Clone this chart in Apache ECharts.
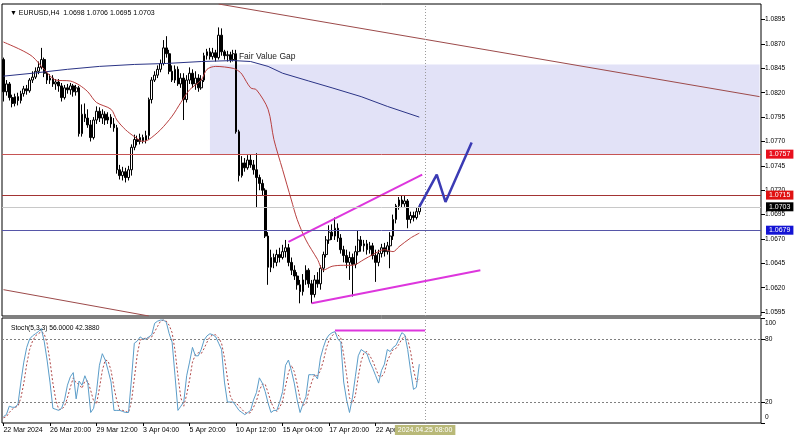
<!DOCTYPE html>
<html><head><meta charset="utf-8">
<script src="https://cdn.jsdelivr.net/npm/echarts@6/dist/echarts.min.js"></script>
<style>html,body{margin:0;padding:0;background:#fff}#c{width:800px;height:441px}</style>
</head><body><div id="c"></div>
<script>
const slotCount = 261;
const tickLabels = ['22 Mar 2024','26 Mar 20:00','29 Mar 12:00','3 Apr 04:00','5 Apr 20:00','10 Apr 12:00','15 Apr 04:00','17 Apr 20:00','22 Apr 12:00'];
const priceTicks = [1.0595,1.0620,1.0645,1.0670,1.0695,1.0720,1.0745,1.0770,1.0795,1.0820,1.0845,1.0870,1.0895];
const stochTicks = [0,20,80,100];
// [open, close, low, high]
const ohlc = [
[1.0854,1.0821,1.0811,1.0856],[1.0821,1.0829,1.0817,1.0833],[1.0829,1.0815,1.0812,1.0831],[1.0815,1.0809,1.0805,1.0818],
[1.0809,1.0816,1.0806,1.0819],[1.0816,1.0812,1.0807,1.0820],[1.0812,1.0819,1.0809,1.0822],[1.0819,1.0824,1.0816,1.0827],
[1.0824,1.0822,1.0818,1.0828],[1.0822,1.0833,1.0820,1.0835],[1.0833,1.0836,1.0830,1.0842],[1.0836,1.0842,1.0834,1.0846],
[1.0842,1.0846,1.0839,1.0852],[1.0846,1.0854,1.0844,1.0866],[1.0854,1.0840,1.0836,1.0856],[1.0840,1.0833,1.0829,1.0842],
[1.0833,1.0835,1.0829,1.0839],[1.0835,1.0829,1.0826,1.0838],[1.0829,1.0831,1.0823,1.0834],[1.0831,1.0827,1.0821,1.0834],
[1.0827,1.0815,1.0811,1.0830],[1.0815,1.0825,1.0813,1.0828],[1.0825,1.0823,1.0819,1.0829],[1.0823,1.0827,1.0818,1.0830],
[1.0827,1.0821,1.0816,1.0829],[1.0821,1.0825,1.0817,1.0828],[1.0825,1.0778,1.0775,1.0827],[1.0778,1.0798,1.0775,1.0808],
[1.0798,1.0794,1.0790,1.0809],[1.0794,1.0787,1.0784,1.0803],[1.0787,1.0774,1.0770,1.0792],[1.0774,1.0792,1.0772,1.0795],
[1.0792,1.0801,1.0788,1.0806],[1.0801,1.0794,1.0790,1.0805],[1.0794,1.0798,1.0788,1.0803],[1.0798,1.0792,1.0787,1.0801],
[1.0792,1.0795,1.0788,1.0800],[1.0795,1.0788,1.0784,1.0798],[1.0788,1.0784,1.0780,1.0794],[1.0784,1.0741,1.0737,1.0787],
[1.0741,1.0735,1.0731,1.0746],[1.0735,1.0739,1.0730,1.0744],[1.0739,1.0733,1.0728,1.0743],[1.0733,1.0741,1.0730,1.0745],
[1.0741,1.0764,1.0735,1.0767],[1.0764,1.0772,1.0761,1.0777],[1.0772,1.0770,1.0766,1.0776],[1.0770,1.0774,1.0767,1.0778],
[1.0774,1.0771,1.0768,1.0777],[1.0771,1.0776,1.0768,1.0781],[1.0776,1.0813,1.0772,1.0815],[1.0813,1.0833,1.0809,1.0836],
[1.0833,1.0838,1.0831,1.0842],[1.0838,1.0844,1.0835,1.0848],[1.0844,1.0850,1.0841,1.0854],[1.0850,1.0866,1.0848,1.0874],
[1.0866,1.0860,1.0856,1.0878],[1.0860,1.0842,1.0839,1.0864],[1.0842,1.0833,1.0831,1.0848],[1.0833,1.0844,1.0830,1.0848],
[1.0844,1.0829,1.0827,1.0847],[1.0829,1.0835,1.0825,1.0840],[1.0835,1.0813,1.0792,1.0840],[1.0813,1.0833,1.0810,1.0838],
[1.0833,1.0840,1.0829,1.0846],[1.0840,1.0829,1.0825,1.0844],[1.0829,1.0835,1.0823,1.0842],[1.0835,1.0825,1.0821,1.0839],
[1.0825,1.0833,1.0823,1.0838],[1.0833,1.0858,1.0831,1.0861],[1.0858,1.0862,1.0854,1.0865],[1.0862,1.0857,1.0854,1.0866],
[1.0857,1.0861,1.0854,1.0866],[1.0861,1.0856,1.0852,1.0864],[1.0856,1.0879,1.0854,1.0887],[1.0879,1.0862,1.0858,1.0886],
[1.0862,1.0858,1.0854,1.0864],[1.0858,1.0859,1.0852,1.0863],[1.0859,1.0854,1.0851,1.0862],[1.0854,1.0860,1.0852,1.0864],
[1.0860,1.0780,1.0778,1.0864],[1.0780,1.0735,1.0729,1.0782],[1.0735,1.0748,1.0733,1.0755],[1.0748,1.0743,1.0739,1.0753],
[1.0743,1.0751,1.0741,1.0756],[1.0751,1.0746,1.0743,1.0757],[1.0746,1.0741,1.0736,1.0751],[1.0741,1.0733,1.0702,1.0758],
[1.0733,1.0727,1.0720,1.0736],[1.0727,1.0720,1.0715,1.0731],[1.0720,1.0673,1.0671,1.0722],[1.0673,1.0641,1.0623,1.0677],
[1.0641,1.0651,1.0636,1.0659],[1.0651,1.0646,1.0640,1.0655],[1.0646,1.0654,1.0642,1.0659],[1.0654,1.0651,1.0646,1.0661],
[1.0651,1.0657,1.0649,1.0664],[1.0657,1.0661,1.0651,1.0669],[1.0661,1.0646,1.0642,1.0665],[1.0646,1.0638,1.0633,1.0651],
[1.0638,1.0632,1.0628,1.0643],[1.0632,1.0623,1.0618,1.0636],[1.0623,1.0616,1.0604,1.0628],[1.0616,1.0628,1.0612,1.0634],
[1.0628,1.0638,1.0623,1.0643],[1.0638,1.0624,1.0620,1.0640],[1.0624,1.0613,1.0604,1.0628],[1.0613,1.0628,1.0610,1.0633],
[1.0628,1.0624,1.0620,1.0636],[1.0624,1.0640,1.0618,1.0643],[1.0640,1.0654,1.0636,1.0657],[1.0654,1.0669,1.0651,1.0673],
[1.0669,1.0677,1.0665,1.0684],[1.0677,1.0673,1.0669,1.0685],[1.0673,1.0681,1.0669,1.0692],[1.0681,1.0671,1.0667,1.0686],
[1.0671,1.0659,1.0655,1.0675],[1.0659,1.0653,1.0646,1.0663],[1.0653,1.0646,1.0640,1.0659],[1.0646,1.0651,1.0628,1.0657],
[1.0651,1.0644,1.0611,1.0655],[1.0644,1.0657,1.0640,1.0663],[1.0657,1.0669,1.0653,1.0679],[1.0669,1.0663,1.0657,1.0673],
[1.0663,1.0665,1.0657,1.0669],[1.0665,1.0659,1.0654,1.0669],[1.0659,1.0663,1.0655,1.0667],[1.0663,1.0653,1.0649,1.0666],
[1.0653,1.0646,1.0626,1.0659],[1.0646,1.0655,1.0642,1.0659],[1.0655,1.0661,1.0651,1.0665],[1.0661,1.0657,1.0652,1.0666],
[1.0657,1.0663,1.0654,1.0667],[1.0663,1.0673,1.0640,1.0677],[1.0673,1.0690,1.0669,1.0695],[1.0690,1.0704,1.0686,1.0706],
[1.0704,1.0710,1.0700,1.0713],[1.0710,1.0706,1.0702,1.0715],[1.0706,1.0709,1.0703,1.0714],[1.0709,1.0690,1.0681,1.0711],
[1.0690,1.0694,1.0686,1.0698],[1.0694,1.0692,1.0688,1.0698],[1.0692,1.0698,1.0690,1.0702],[1.0698,1.0703,1.0695,1.0706]
];
const stochK = [6,8,16,15,15,18,39,58,72,80,83,85,87,90,78,60,39,14,13,12,14,22,36,44,48,23,40,36,45,38,
10,14,30,55,66,60,50,39,12,12,12,11,10,10,41,76,78,82,80,80,82,84,95,97,98,98,96,85,77,45,
12,16,20,45,58,72,64,64,70,79,83,85,84,82,76,70,39,20,20,20,16,12,10,8,10,12,22,29,43,38,
30,19,10,12,12,20,30,55,60,50,38,22,10,18,25,46,46,46,42,62,72,80,84,86,87,80,77,39,22,10,
24,44,64,70,68,66,58,52,45,38,50,56,70,68,72,74,80,86,84,70,50,32,34,56];
const stochD = [5,6,10,13,15,16,24,38,56,70,78,83,85,87,85,76,59,38,22,13,13,16,24,34,43,38,37,33,40,40,
31,21,18,33,50,60,59,50,34,21,12,12,11,10,20,42,65,79,80,81,81,82,87,92,97,98,97,93,86,69,
45,24,16,27,41,58,65,67,66,71,77,82,84,84,81,76,62,43,26,20,19,16,13,10,9,10,15,21,31,37,
37,29,20,14,11,15,21,35,48,55,49,37,23,17,18,30,39,46,45,50,59,71,79,83,86,84,81,65,46,24,
19,26,44,59,67,68,64,59,52,45,44,48,59,65,70,71,75,80,83,80,68,51,39,42];
const maRed = [[0,1.0872],[6,1.0864],[10,1.0857],[14,1.0844],[18,1.0833],[23,1.0832],[26,1.0828],[29,1.0821],[32,1.0810],[37,1.0803],
[39,1.0792],[42,1.0782],[45,1.0775],[48,1.0770],[50,1.0772],[54,1.0782],[58,1.0796],[61,1.0810],[64,1.0823],[68,1.0833],[70,1.0844],
[73,1.0847],[79,1.0845],[81,1.0842],[82,1.0839],[85,1.0825],[87,1.0823],[91,1.0803],[93,1.0772],[96,1.0741],[99,1.0710],
[101,1.0690],[104,1.0669],[108,1.0649],[110,1.0638],[113,1.0642],[117,1.0643],[120,1.0643],[124,1.0649],[127,1.0654],
[131,1.0659],[134,1.0657],[136,1.0662],[140,1.0671],[143,1.0676]];
const maBlue = [[0,1.0837],[10,1.0840],[22,1.0844],[33,1.0847],[45,1.0849],[56,1.0850],[68,1.0852],[79,1.0853],[85,1.0852],
[91,1.0847],[96,1.0840],[105,1.0832],[113,1.0825],[123,1.0816],[132,1.0806],[143,1.0795]];
const trendUpper = [[74,1.0911],[260,1.0816]];
const trendLower = [[0,1.0618],[50,1.0591]];
const wedgeUpper = [[98,1.0667],[144,1.0736]];
const wedgeLower = [[106,1.0604],[164,1.0638]];
const projection = [[143,1.0703],[149,1.0736],[152,1.0708],[161,1.0769]];
const stochTop = [[114,88],[145,88]];
const fvg = {from: 71, to: 260, top: 1.0849, bottom: 1.0757, label: 'Fair Value Gap'};
const levels = [
  {v: 1.0757, line: '#c65454', bg: '#e8101e'},
  {v: 1.0715, line: '#a33434', bg: '#e01212'},
  {v: 1.0703, line: '#c8c8c8', bg: '#000000'},
  {v: 1.0679, line: '#5656a8', bg: '#1414d4'}
];
const cursorIndex = 145;
const cursorLabel = '2024.04.25 08:00';
const header = '\u25BC EURUSD,H4  1.0698 1.0706 1.0695 1.0703';
const stochHeader = 'Stoch(5,3,3) 56.0000 42.3880';

const cats = Array.from({length: slotCount}, (_, i) => String(i));
const FONT = 'Liberation Sans, Arial, sans-serif';
const chart = echarts.init(document.getElementById('c'), null, {renderer: 'canvas'});
const lineS = (data, color, width, extra) => Object.assign({
  type: 'line', data, xAxisIndex: 0, yAxisIndex: 0, symbol: 'none', silent: true, clip: true,
  lineStyle: {color, width}, z: 4
}, extra || {});

chart.setOption({
  animation: false,
  backgroundColor: '#fff',
  textStyle: {fontFamily: FONT},
  title: [
    {text: header, left: 5, top: 5, textStyle: {fontSize: 7, fontWeight: 'normal', color: '#000', fontFamily: FONT}},
    {text: stochHeader, left: 6, top: 320, textStyle: {fontSize: 6.7, fontWeight: 'normal', color: '#000', fontFamily: FONT}}
  ],
  grid: [
    {left: 2, top: 4, width: 759, height: 312, show: true, borderColor: '#000', borderWidth: 1, backgroundColor: 'transparent'},
    {left: 2, top: 318, width: 759, height: 105, show: true, borderColor: '#000', borderWidth: 1, backgroundColor: 'transparent'}
  ],
  xAxis: [
    {type: 'category', gridIndex: 0, data: cats, axisLine: {show: false}, axisTick: {show: false}, axisLabel: {show: false}, splitLine: {show: false}},
    {type: 'category', gridIndex: 1, data: cats, axisLine: {show: false},
     axisTick: {show: true, alignWithLabel: true, length: 3, interval: (i) => i % 16 === 0 && i / 16 < tickLabels.length, lineStyle: {color: '#000'}},
     axisLabel: {interval: (i) => i % 16 === 0 && i / 16 < tickLabels.length, formatter: (v, i) => tickLabels[Math.round(Number(v) / 16)] || '',
       align: 'left', fontSize: 7, margin: 4, color: '#000', fontFamily: FONT},
     splitLine: {show: false}}
  ],
  yAxis: [
    {type: 'value', gridIndex: 0, position: 'right', min: 1.0591, max: 1.0911, scale: true,
     axisLine: {show: false}, splitLine: {show: false},
     axisTick: {show: true, length: 4, customValues: priceTicks, lineStyle: {color: '#000'}},
     axisLabel: {customValues: priceTicks, formatter: (v) => v.toFixed(4), fontSize: 6.6, margin: 4, color: '#000', fontFamily: FONT}},
    {type: 'value', gridIndex: 1, position: 'right', min: 0, max: 100,
     axisLine: {show: false}, splitLine: {show: false},
     axisTick: {show: true, length: 4, customValues: stochTicks, lineStyle: {color: '#000'}},
     axisLabel: {customValues: stochTicks, fontSize: 6.6, margin: 4, color: '#000', fontFamily: FONT,
       formatter: (v) => v === 100 ? '{a|100}' : (v === 0 ? '{b|0}' : String(v)),
       rich: {a: {fontSize: 6.6, padding: [11, 0, 0, 0], fontFamily: FONT}, b: {fontSize: 6.6, padding: [0, 0, 12, 0], fontFamily: FONT}}}}
  ],
  series: [
    {type: 'line', data: [], xAxisIndex: 0, yAxisIndex: 0, z: 1, silent: true,
     markArea: {silent: true, precision: 4, itemStyle: {color: '#e2e2f7'},
       label: {show: true, position: [29, -12], formatter: fvg.label, fontSize: 8.5, color: '#222', fontFamily: FONT},
       data: [[{xAxis: fvg.from, yAxis: fvg.top}, {xAxis: fvg.to, yAxis: fvg.bottom}]]}},
    {type: 'candlestick', data: ohlc, xAxisIndex: 0, yAxisIndex: 0, z: 3, barWidth: 2.2, silent: true,
     itemStyle: {color: '#ffffff', color0: '#000000', borderColor: '#000000', borderColor0: '#000000', borderWidth: 1},
     markLine: {silent: true, precision: 4, symbol: ['none', 'none'], animation: false,
       label: {show: true, position: 'end', distance: 5, formatter: (p) => Number(p.value).toFixed(4), color: '#fff', fontSize: 7, padding: [1, 3, 1, 3], fontFamily: FONT},
       data: levels.map(l => ({yAxis: l.v, lineStyle: {color: l.line, width: 1, type: 'solid'}, label: {backgroundColor: l.bg}}))
         .concat([{xAxis: cursorIndex, lineStyle: {color: '#9a9a9a', width: 1, type: [1, 2]}, label: {show: false}}])}},
    lineS(trendUpper, '#9c4a4a', 1),
    lineS(trendLower, '#9c4a4a', 1),
    lineS(maBlue, '#2b3486', 1),
    lineS(maRed, '#b84040', 1, {smooth: 0.3}),
    lineS(wedgeUpper, '#dd36dd', 2),
    lineS(wedgeLower, '#dd36dd', 2),
    lineS(projection, '#3b3bb4', 2.5, {z: 6}),
    {type: 'line', data: stochD, xAxisIndex: 1, yAxisIndex: 1, symbol: 'none', silent: true,
     lineStyle: {color: '#b04848', width: 1, type: [2, 2]}, z: 3},
    {type: 'line', data: stochK, xAxisIndex: 1, yAxisIndex: 1, symbol: 'none', silent: true,
     lineStyle: {color: '#5b9dc9', width: 1}, z: 4,
     markLine: {silent: true, symbol: ['none', 'none'], animation: false,
       label: {show: false},
       data: [
         {yAxis: 80, lineStyle: {color: '#808080', width: 1, type: [2, 2]}},
         {yAxis: 20, lineStyle: {color: '#808080', width: 1, type: [2, 2]}},
         {xAxis: cursorIndex, lineStyle: {color: '#9a9a9a', width: 1, type: [1, 2]},
          label: {show: true, position: 'start', distance: 2, formatter: cursorLabel, color: '#fff', backgroundColor: '#b9b978', fontSize: 7, padding: [2, 3, 1, 3], fontFamily: FONT}}
       ]}},
    {type: 'line', data: stochTop, xAxisIndex: 1, yAxisIndex: 1, symbol: 'none', silent: true,
     lineStyle: {color: '#dd36dd', width: 2}, z: 5}
  ]
});
</script></body></html>
